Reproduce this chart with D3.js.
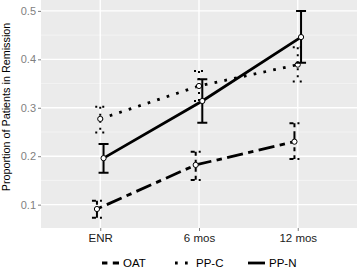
<!DOCTYPE html>
<html><head><meta charset="utf-8">
<script src="https://cdn.jsdelivr.net/npm/d3@7"></script>
<style>body{margin:0;background:#fff}svg{display:block}text{font-family:"Liberation Sans",Arial,sans-serif}</style>
</head><body><svg id="c" width="357" height="272"></svg>
<script>
const categories = ["ENR", "6 mos", "12 mos"];
const seriesNames = ["OAT", "PP-C", "PP-N"];
const oatMean = [0.091, 0.182, 0.230];
const oatLow  = [0.073, 0.151, 0.194];
const oatHigh = [0.108, 0.209, 0.268];
const ppcMean = [0.277, 0.345, 0.389];
const ppcLow  = [0.249, 0.314, 0.354];
const ppcHigh = [0.302, 0.376, 0.425];
const ppnMean = [0.196, 0.314, 0.446];
const ppnLow  = [0.166, 0.269, 0.393];
const ppnHigh = [0.225, 0.359, 0.500];
const yTicks = [0.1, 0.2, 0.3, 0.4, 0.5];
const yMinor = [0.15, 0.25, 0.35, 0.45];

const series = [
  {name: seriesNames[0], mean: oatMean, low: oatLow, high: oatHigh, dash: "5.4,5.4,16.2,5.4", edash: "4,4,12,4", off: -1},
  {name: seriesNames[1], mean: ppcMean, low: ppcLow, high: ppcHigh, dash: "2.7,7.3", edash: "2,5", off: 0},
  {name: seriesNames[2], mean: ppnMean, low: ppnLow, high: ppnHigh, dash: null, edash: null, off: 1}
];

const svg = d3.select("#c");
const L = 41, R = 357, T = 0, B = 228;
const xp = d3.scalePoint().domain(categories).range([L, R]).padding(0.6);
const y = d3.scaleLinear().domain([0.0518, 0.5225]).range([B, T]);
const dodge = 3.3;

svg.append("rect").attr("x", L).attr("y", T).attr("width", R - L).attr("height", B - T).attr("fill", "#ebebeb");
svg.selectAll(".minor").data(yMinor).enter().append("line")
  .attr("x1", L).attr("x2", R).attr("y1", d => y(d)).attr("y2", d => y(d))
  .attr("stroke", "#f5f5f5").attr("stroke-width", 0.8);
svg.selectAll(".major").data(yTicks).enter().append("line")
  .attr("x1", L).attr("x2", R).attr("y1", d => y(d)).attr("y2", d => y(d))
  .attr("stroke", "#fff").attr("stroke-width", 1.4);
svg.selectAll(".vmajor").data(categories).enter().append("line")
  .attr("x1", d => xp(d)).attr("x2", d => xp(d)).attr("y1", T).attr("y2", B)
  .attr("stroke", "#fff").attr("stroke-width", 1.4);

// axes
const yAxis = d3.axisLeft(y).tickValues(yTicks).tickSize(3).tickPadding(2).tickFormat(d3.format(".1f"));
const gy = svg.append("g").attr("transform", `translate(${L},0)`).call(yAxis);
gy.select(".domain").remove();
gy.selectAll("line").attr("stroke", "#7f7f7f");
gy.selectAll("text").attr("fill", "#7f7f7f").attr("font-size", 11);

const xAxis = d3.axisBottom(xp).tickSize(3).tickPadding(3);
const gx = svg.append("g").attr("transform", `translate(0,${B})`).call(xAxis);
gx.select(".domain").remove();
gx.selectAll("line").attr("stroke", "#7f7f7f");
gx.selectAll("text").attr("fill", "#1a1a1a").attr("font-size", 11.5);

svg.append("text").attr("transform", `translate(9.5,107) rotate(-90)`)
  .attr("text-anchor", "middle").attr("font-size", 10.8).attr("fill", "#000")
  .text("Proportion of Patients in Remission");

// series
series.forEach(s => {
  const px = i => xp(categories[i]) + s.off * dodge;
  const idx = d3.range(categories.length);
  const g = svg.append("g");
  idx.forEach(i => {
    const eb = g.append("path")
      .attr("d", `M${px(i) - 5},${y(s.high[i])}H${px(i) + 5}M${px(i)},${y(s.high[i])}V${y(s.low[i])}M${px(i) - 5},${y(s.low[i])}H${px(i) + 5}`)
      .attr("stroke", "#000").attr("stroke-width", 2).attr("fill", "none");
    if (s.edash) eb.attr("stroke-dasharray", s.edash);
  });
  const line = d3.line().x(i => px(i)).y(i => y(s.mean[i]));
  const p = g.append("path").attr("d", line(idx)).attr("fill", "none").attr("stroke", "#000").attr("stroke-width", 2.8);
  if (s.dash) p.attr("stroke-dasharray", s.dash);
  s.g = g; s.px = px;
});
series.forEach(s => {
  d3.range(categories.length).forEach(i => {
    s.g.append("circle").attr("cx", s.px(i)).attr("cy", y(s.mean[i])).attr("r", 2.6)
      .attr("fill", "#fff").attr("stroke", "#000").attr("stroke-width", 1);
  });
});

// legend
const legX = [102, 175, 248];
const legY = 263;
series.forEach((s, k) => {
  const lk = svg.append("line").attr("x1", legX[k]).attr("x2", legX[k] + 17).attr("y1", legY).attr("y2", legY)
    .attr("stroke", "#000").attr("stroke-width", 2.8);
  if (s.dash) lk.attr("stroke-dasharray", s.dash);
  svg.append("text").attr("x", legX[k] + 21).attr("y", legY + 4).attr("font-size", 11.5).attr("fill", "#000").text(s.name);
});
</script></body></html>
